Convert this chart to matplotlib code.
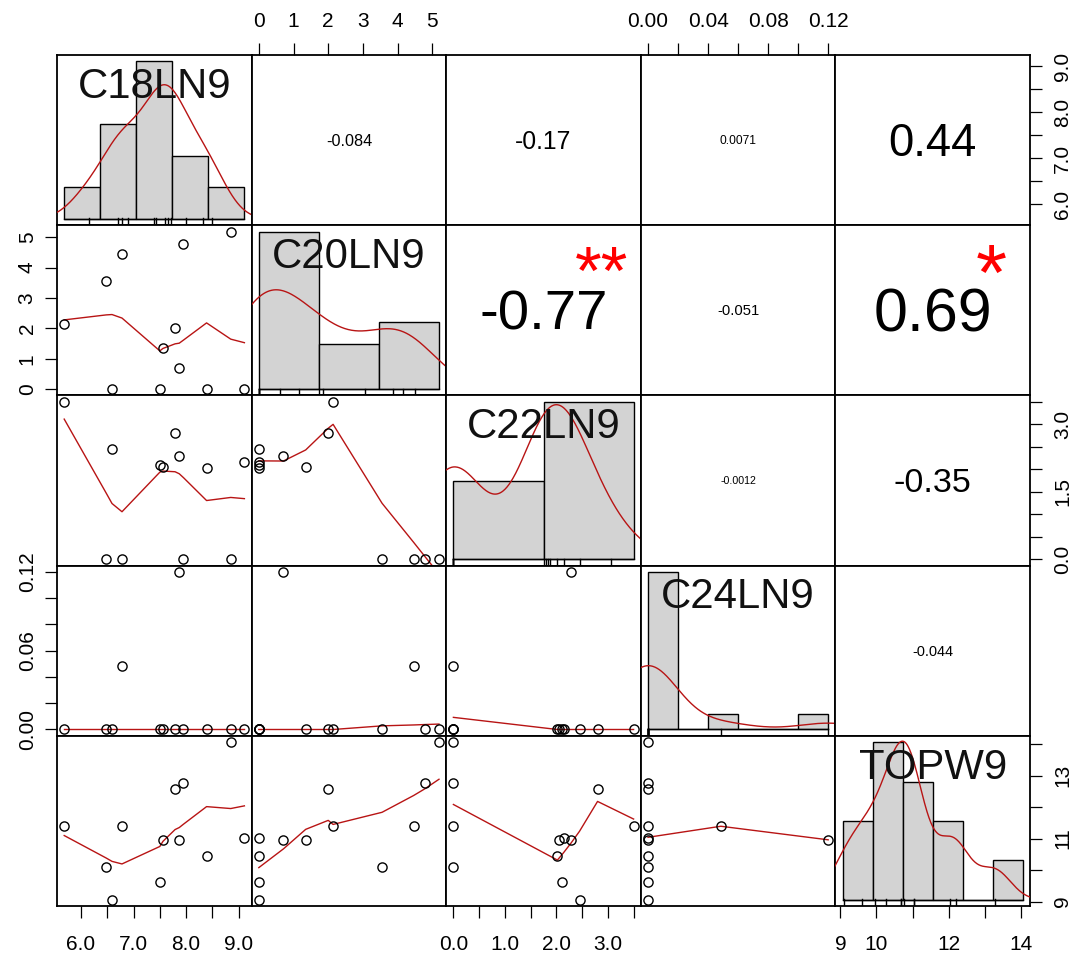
import numpy as np
import matplotlib
matplotlib.use("Agg")
import matplotlib.pyplot as plt
from matplotlib.font_manager import FontProperties
from matplotlib.textpath import TextPath
from matplotlib.transforms import ScaledTranslation, blended_transform_factory

# ---------------- data ----------------
var_names = ["C18LN9", "C20LN9", "C22LN9", "C24LN9", "TOPW9"]
c18 = [5.68, 6.48, 6.59, 6.78, 7.50, 7.56, 7.79, 7.87, 7.95, 8.39, 8.85, 9.11]
c20 = [2.14, 3.55, 0.00, 4.46, 0.00, 1.35, 2.00, 0.71, 4.79, 0.00, 5.19, 0.00]
c22 = [3.50, 0.00, 2.45, 0.00, 2.10, 2.06, 2.80, 2.29, 0.00, 2.02, 0.00, 2.15]
c24 = [0.0, 0.0, 0.0, 0.0485, 0.0, 0.0, 0.0, 0.12, 0.0, 0.0, 0.0, 0.0]
topw = [11.39, 10.09, 9.06, 11.39, 9.63, 10.96, 12.58, 10.96, 12.77, 10.46, 14.06, 11.03]

# upper-triangle correlations (row-major) and significance stars
corr_values = [-0.084, -0.17, 0.0071, 0.44, -0.77, -0.051, 0.69, -0.0012, -0.35, -0.044]
corr_labels = ["-0.084", "-0.17", "0.0071", "0.44", "-0.77", "-0.051", "0.69", "-0.0012", "-0.35", "-0.044"]
signif = ["", "", "", "", "**", "", "*", "", "", ""]

# histogram bin edges
hist_breaks = [
    [5, 6, 7, 8, 9, 10],
    [0, 2, 4, 6],
    [0, 2, 4],
    [0, 0.02, 0.04, 0.06, 0.08, 0.10, 0.12],
    [9, 10, 11, 12, 13, 14, 15],
]

# axis ticks and labels
tick_vals = [
    [6.0, 6.5, 7.0, 7.5, 8.0, 8.5, 9.0],
    [0, 1, 2, 3, 4, 5],
    [0, 0.5, 1.0, 1.5, 2.0, 2.5, 3.0, 3.5],
    [0, 0.02, 0.04, 0.06, 0.08, 0.10, 0.12],
    [9, 10, 11, 12, 13, 14],
]
h_labels = [
    ["6.0", "", "7.0", "", "8.0", "", "9.0"],
    ["0", "1", "2", "3", "4", "5"],
    ["0.0", "", "1.0", "", "2.0", "", "3.0", ""],
    ["0.00", "", "0.04", "", "0.08", "", "0.12"],
    ["9", "10", "", "12", "", "14"],
]
v_labels = [
    ["6.0", "", "7.0", "", "8.0", "", "9.0"],
    ["0", "1", "2", "3", "4", "5"],
    ["0.0", "", "", "1.5", "", "", "3.0", ""],
    ["0.00", "", "", "0.06", "", "", "0.12"],
    ["9", "", "11", "", "13", ""],
]

data = [np.array(v, float) for v in (c18, c20, c22, c24, topw)]

# ---------------- helpers ----------------
FONT = "Liberation Sans"
plt.rcParams["font.family"] = [FONT, "DejaVu Sans"]
LINE_RED = "#B81414"


def _lowest(x, y, n, xs, nleft, nright, w, userw, rw):
    rng = x[n - 1] - x[0]
    h = max(xs - x[nleft], x[nright] - xs)
    h9 = 0.999 * h
    h1 = 0.001 * h
    a = 0.0
    j = nleft
    while j < n:
        w[j] = 0.0
        r = abs(x[j] - xs)
        if r <= h9:
            if r <= h1:
                w[j] = 1.0
            else:
                w[j] = (1 - (r / h) ** 3) ** 3
            if userw:
                w[j] *= rw[j]
            a += w[j]
        elif x[j] > xs:
            break
        j += 1
    nrt = j - 1
    if a <= 0:
        return 0.0, False
    for k in range(nleft, nrt + 1):
        w[k] /= a
    if h > 0:
        a = sum(w[k] * x[k] for k in range(nleft, nrt + 1))
        b = xs - a
        c = sum(w[k] * (x[k] - a) ** 2 for k in range(nleft, nrt + 1))
        if np.sqrt(c) > 0.001 * rng:
            b /= c
            for k in range(nleft, nrt + 1):
                w[k] *= b * (x[k] - a) + 1.0
    ys = sum(w[k] * y[k] for k in range(nleft, nrt + 1))
    return ys, True


def lowess(x, y, f=2 / 3, iters=3):
    x = np.asarray(x, float)
    y = np.asarray(y, float)
    o = np.argsort(x, kind="stable")
    x = x[o]
    y = y[o]
    n = len(x)
    delta = 0.01 * (x[-1] - x[0])
    ns = max(2, min(n, int(f * n + 1e-7)))
    ys = np.zeros(n)
    rw = np.ones(n)
    w = np.zeros(n)
    it = 1
    while it <= iters + 1:
        nleft, nright = 0, ns - 1
        last = -1
        i = 0
        while True:
            if nright < n - 1:
                d1 = x[i] - x[nleft]
                d2 = x[nright + 1] - x[i]
                if d1 > d2:
                    nleft += 1
                    nright += 1
                    continue
            val, ok = _lowest(x, y, n, x[i], nleft, nright, w, it > 1, rw)
            ys[i] = val if ok else y[i]
            if last < i - 1:
                denom = x[i] - x[last]
                for j in range(last + 1, i):
                    alpha = (x[j] - x[last]) / denom
                    ys[j] = alpha * ys[i] + (1 - alpha) * ys[last]
            last = i
            cut = x[last] + delta
            i = last + 1
            while i < n:
                if x[i] > cut:
                    break
                if x[i] == x[last]:
                    ys[i] = ys[last]
                    last = i
                i += 1
            i = max(last + 1, i - 1)
            if last >= n - 1:
                break
        res = y - ys
        sc = np.mean(np.abs(res))
        if it > iters:
            break
        cmad = 6 * np.median(np.abs(res))
        if cmad < 1e-7 * sc:
            break
        c9, c1 = 0.999 * cmad, 0.001 * cmad
        r = np.abs(res)
        rw = np.where(r <= c1, 1.0, np.where(r <= c9, (1 - (r / cmad) ** 2) ** 2, 0.0))
        it += 1
    return x, ys


def density(x, npts=512):
    x = np.asarray(x, float)
    n = len(x)
    hi = np.std(x, ddof=1)
    q1, q3 = np.percentile(x, [25, 75])
    lo = min(hi, (q3 - q1) / 1.34)
    if lo <= 0:
        lo = hi if hi > 0 else (abs(x[0]) if x[0] != 0 else 1.0)
    bw = 0.9 * lo * n ** (-0.2)
    gx = np.linspace(x.min() - 3 * bw, x.max() + 3 * bw, npts)
    gy = np.exp(-0.5 * ((gx[:, None] - x[None, :]) / bw) ** 2).sum(axis=1) / (n * bw * np.sqrt(2 * np.pi))
    return gx, gy


def hist_density(x, breaks):
    b = np.asarray(breaks, float)
    idx = np.searchsorted(b, x, side="left") - 1  # right-closed bins
    idx = np.clip(idx, 0, len(b) - 2)
    counts = np.bincount(idx, minlength=len(b) - 1)
    return counts / (len(x) * np.diff(b))


def padded(lo, hi):
    r = hi - lo
    return lo - 0.04 * r, hi + 0.04 * r


def ink_center_pts(txt, size):
    tp = TextPath((0, 0), txt, size=size, prop=FontProperties(family=FONT))
    e = tp.get_extents()
    return (e.y0 + e.y1) / 2.0


# ---------------- layout ----------------
W, H = 1082, 960
DPI = 100
fig = plt.figure(figsize=(W / DPI, H / DPI), dpi=DPI)
renderer = fig.canvas.get_renderer()
X0, X1, Y0, Y1 = 57, 1030, 55, 906
NV = len(var_names)
PW = (X1 - X0) / NV
PH = (Y1 - Y0) / NV


def rect(i, j):
    return [(X0 + j * PW) / W, 1 - (Y0 + (i + 1) * PH) / H, PW / W, PH / H]


def text_width_px(txt, size):
    w, h, d = renderer.get_text_width_height_descent(txt, FontProperties(family=FONT, size=size), ismath=False)
    return w


lims = [padded(d.min(), d.max()) for d in data]

TICK_LEN = 8.6
LABEL_FS = 15
SPINE_LW = 1.3

# diagonal label size: widest label about 0.79 of the panel width
label_fs = 100 * 0.79 * PW / max(text_width_px(nm, 100) for nm in var_names)

k = 0
corr_index = {}
for i in range(NV):
    for j in range(i + 1, NV):
        corr_index[(i, j)] = k
        k += 1

for i in range(NV):
    for j in range(NV):
        ax = fig.add_axes(rect(i, j))
        ax.set_xlim(lims[j])
        ax.set_ylim(lims[i])
        ax.patch.set_facecolor("white")
        for sp in ax.spines.values():
            sp.set_linewidth(SPINE_LW)
            sp.set_color("black")

        show_top = (i == 0 and j % 2 == 1)
        show_bottom = (i == NV - 1 and j % 2 == 0)
        show_left = (j == 0 and i % 2 == 1)
        show_right = (j == NV - 1 and i % 2 == 0)

        if show_top or show_bottom:
            ax.set_xticks(tick_vals[j])
            ax.set_xticklabels(h_labels[j])
            if show_top:
                ax.xaxis.set_ticks_position("top")
                ax.tick_params(axis="x", top=True, bottom=False, labeltop=True, labelbottom=False,
                               direction="out", length=TICK_LEN, width=0.9, labelsize=LABEL_FS, pad=9)
            else:
                ax.xaxis.set_ticks_position("bottom")
                ax.tick_params(axis="x", direction="out", length=TICK_LEN, width=0.9,
                               labelsize=LABEL_FS, pad=12)
        else:
            ax.set_xticks([])
        if show_left or show_right:
            ax.set_yticks(tick_vals[i])
            if show_right:
                ax.yaxis.set_ticks_position("right")
                ax.tick_params(axis="y", right=True, left=False, labelright=True, labelleft=False,
                               direction="out", length=TICK_LEN, width=0.9, labelsize=LABEL_FS, pad=8)
                ax.set_yticklabels(v_labels[i], rotation=90, va="center", ha="left")
            else:
                ax.yaxis.set_ticks_position("left")
                ax.tick_params(axis="y", direction="out", length=TICK_LEN, width=0.9,
                               labelsize=LABEL_FS, pad=6)
                ax.set_yticklabels(v_labels[i], rotation=90, va="center", ha="right")
        else:
            ax.set_yticks([])

        if i > j:
            # scatter + lowess
            ax.plot(data[j], data[i], linestyle="none", marker="o", markersize=6.6,
                    markerfacecolor="none", markeredgecolor="black", markeredgewidth=1.0, zorder=3)
            sx, sy = lowess(data[j], data[i])
            ax.plot(sx, sy, color=LINE_RED, lw=1.0, zorder=2)
        elif i < j:
            idx = corr_index[(i, j)]
            txt = corr_labels[idx]
            r = corr_values[idx]
            base_fs = 100 * 0.8 * PW / text_width_px(txt, 100)
            fs = base_fs * (abs(r) + 0.3) / 1.3
            cy = ink_center_pts(txt, fs)
            ax.text(0.5, 0.5, txt, fontsize=fs, ha="center", va="baseline", color="black",
                    transform=ax.transAxes + ScaledTranslation(0, -cy / 72.0, fig.dpi_scale_trans))
            if signif[idx]:
                s = signif[idx]
                cys = ink_center_pts(s, base_fs)
                ax.text(0.8, 0.8, s, fontsize=base_fs, ha="center", va="baseline", color="#FF0000",
                        transform=ax.transAxes + ScaledTranslation(0, -cys / 72.0, fig.dpi_scale_trans))
        else:
            # diagonal: histogram in its own coordinates
            ax2 = fig.add_axes(rect(i, j))
            ax2.patch.set_visible(False)
            for sp in ax2.spines.values():
                sp.set_visible(False)
            ax2.set_xticks([])
            ax2.set_yticks([])
            b = np.asarray(hist_breaks[i], float)
            dens = hist_density(data[i], b)
            ymax = dens.max()
            ax2.set_xlim(padded(b[0], b[-1]))
            ax2.set_ylim(padded(0, ymax))
            ax2.bar(b[:-1], dens, width=np.diff(b), align="edge", color="#D3D3D3",
                    edgecolor="black", linewidth=1.0, zorder=2)
            ax2.plot([b[0], b[-1]], [0, 0], color="black", lw=1.0, zorder=2)
            gx, gy = density(data[i])
            ax2.plot(gx, gy, color=LINE_RED, lw=1.0, zorder=3)
            tr = blended_transform_factory(ax2.transData, ax2.transAxes)
            for v in data[i]:
                ax2.plot([v, v], [0, 0.04], color="black", lw=1.0, transform=tr, zorder=3)
            cyl = ink_center_pts(var_names[i], label_fs)
            ax2.text(0.5, 0.833, var_names[i], fontsize=label_fs, ha="center", va="baseline",
                     color="#111111", zorder=5,
                     transform=ax2.transAxes + ScaledTranslation(0, -cyl / 72.0, fig.dpi_scale_trans))

fig.savefig("out.png", dpi=DPI, facecolor="white")
